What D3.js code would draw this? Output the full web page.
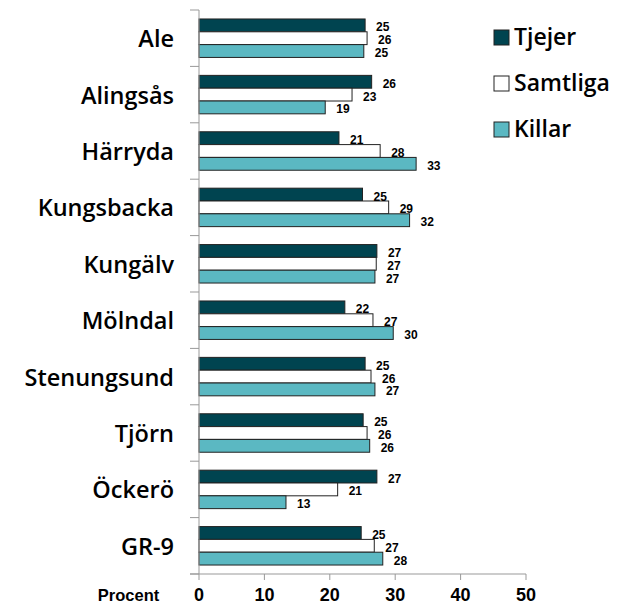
<!DOCTYPE html>
<html>
<head>
<meta charset="utf-8">
<script src="https://cdn.jsdelivr.net/npm/d3@7"></script>
<style>
  body { margin: 0; background: #fff; }
  text { font-family: "Liberation Sans", Arial, sans-serif; fill: #000; }
  .cat, .legtext { font-family: "Open Sans", "Liberation Sans", sans-serif; font-weight: 600; }
</style>
</head>
<body>
<div id="vis"></div>
<script>
var categories = ['Ale', 'Alingsås', 'Härryda', 'Kungsbacka', 'Kungälv', 'Mölndal', 'Stenungsund', 'Tjörn', 'Öckerö', 'GR-9'];
var seriesNames = ['Tjejer', 'Samtliga', 'Killar'];
var tjejer   = [25.4, 26.4, 21.4, 25.0, 27.2, 22.3, 25.4, 25.1, 27.2, 24.8];
var samtliga = [25.7, 23.4, 27.7, 29.0, 27.1, 26.6, 26.3, 25.7, 21.2, 26.8];
var killar   = [25.2, 19.3, 33.2, 32.2, 26.9, 29.7, 26.9, 26.1, 13.3, 28.1];
var xTicks = [0, 10, 20, 30, 40, 50];
var colors = ['#004450', '#ffffff', '#5bb8c2'];

function drawChart() {
  var width = 627;
  var height = 605;
  var mLeft = 199, mRight = 526, mTop = 10, mBottom = 574;

  var svg = d3.select('#vis').append('svg')
    .attr('width', width)
    .attr('height', height);

  var x = d3.scaleLinear().domain([0, 50]).range([mLeft, mRight]);

  var y = d3.scaleBand().domain(categories).range([mTop, mBottom]);

  var inner = d3.scaleBand().domain(seriesNames)
    .range([0, y.bandwidth()])
    .paddingOuter(0.7);

  var series = [tjejer, samtliga, killar];

  var rows = [];
  categories.forEach(function (c, i) {
    seriesNames.forEach(function (s, j) {
      rows.push({ cat: c, series: s, idx: j, value: series[j][i] });
    });
  });

  // bars
  svg.selectAll('.bar')
    .data(rows)
    .enter().append('rect')
    .attr('class', 'bar')
    .attr('x', x(0))
    .attr('y', function (d) { return y(d.cat) + inner(d.series); })
    .attr('width', function (d) { return x(d.value) - x(0); })
    .attr('height', inner.bandwidth())
    .attr('fill', function (d) { return colors[d.idx]; })
    .attr('stroke', '#222')
    .attr('stroke-width', 1);

  // value labels
  svg.selectAll('.val')
    .data(rows)
    .enter().append('text')
    .attr('class', 'val')
    .attr('x', function (d) { return x(d.value) + 11; })
    .attr('y', function (d) { return y(d.cat) + inner(d.series) + inner.bandwidth() / 2 + 6; })
    .attr('font-size', 12)
    .attr('font-weight', 'bold')
    .text(function (d) { return Math.round(d.value); });

  // y axis
  svg.append('line')
    .attr('x1', mLeft).attr('x2', mLeft)
    .attr('y1', mTop).attr('y2', mBottom)
    .attr('stroke', '#999');

  var yTickPos = categories.map(function (c) { return y(c); }).concat([mBottom]);
  svg.selectAll('.ytick')
    .data(yTickPos)
    .enter().append('line')
    .attr('x1', mLeft - 9).attr('x2', mLeft)
    .attr('y1', function (d) { return d; })
    .attr('y2', function (d) { return d; })
    .attr('stroke', '#999');

  svg.selectAll('.cat')
    .data(categories)
    .enter().append('text')
    .attr('class', 'cat')
    .attr('x', 174)
    .attr('y', function (d) { return y(d) + y.bandwidth() / 2 + 9; })
    .attr('text-anchor', 'end')
    .attr('font-size', 23.5)
    .text(function (d) { return d; });

  // x axis
  svg.append('line')
    .attr('x1', 190).attr('x2', mRight)
    .attr('y1', mBottom).attr('y2', mBottom)
    .attr('stroke', '#999');

  svg.selectAll('.xtick')
    .data(xTicks)
    .enter().append('line')
    .attr('x1', function (d) { return x(d); })
    .attr('x2', function (d) { return x(d); })
    .attr('y1', mBottom).attr('y2', mBottom + 6)
    .attr('stroke', '#999');

  svg.selectAll('.xlab')
    .data(xTicks)
    .enter().append('text')
    .attr('x', function (d) { return x(d); })
    .attr('y', 601)
    .attr('text-anchor', 'middle')
    .attr('font-size', 18)
    .attr('font-weight', 'bold')
    .text(function (d) { return d; });

  svg.append('text')
    .attr('x', 128.5)
    .attr('y', 601)
    .attr('text-anchor', 'middle')
    .attr('font-size', 16.5)
    .attr('font-weight', 'bold')
    .text('Procent');

  // legend
  var legend = svg.selectAll('.leg')
    .data(seriesNames)
    .enter().append('g')
    .attr('transform', function (d, i) { return 'translate(494,' + (30 + i * 46) + ')'; });

  legend.append('rect')
    .attr('width', 15).attr('height', 15)
    .attr('fill', function (d, i) { return colors[i]; })
    .attr('stroke', '#222');

  legend.append('text')
    .attr('class', 'legtext')
    .attr('x', 20)
    .attr('y', 15)
    .attr('font-size', 23)
    .text(function (d) { return d; });
}

drawChart();
</script>
</body>
</html>
